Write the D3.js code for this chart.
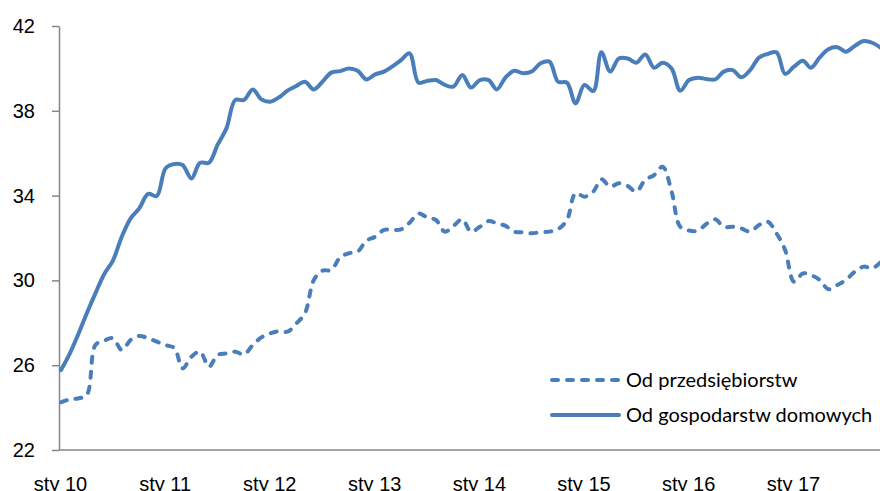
<!DOCTYPE html>
<head>
    <script src="https://d3js.org/d3.v7.js" charset="utf-8"></script>
    <style type="text/css">
        body {
            margin: 0;
            background-color: white;
        }

        svg {
            display: block;
            font-family: Lato, "Noto Sans", sans-serif;
        }

        .axis path,
        .axis line {
            stroke: #868686;
            stroke-width: 1.5px;
        }

        .axis text {
            fill: #000;
            font-size: 20px;
        }

        .series {
            fill: none;
            stroke: #4a7ebb;
            stroke-width: 4px;
            stroke-linecap: round;
            stroke-linejoin: round;
        }

        .dashed {
            stroke-dasharray: 6, 9;
        }

        .legend text {
            font-size: 20px;
            fill: #000;
        }
    </style>
</head>

<body>
    <svg id="main"></svg>
    <script>
        // monthly data, starting from january 2010
        const startMonth = "2010-01"

        const householdDeposits = [
            25.77, 26.56, 27.42, 28.45, 29.39, 30.30, 30.93, 32.06, 32.93, 33.40, 34.08, 33.98,
            35.29, 35.49, 35.44, 34.81, 35.55, 35.55, 36.39, 37.17, 38.51, 38.51, 39.01, 38.54,
            38.43, 38.64, 38.95, 39.17, 39.37, 39.01, 39.37, 39.80, 39.87, 40.00, 39.89, 39.48,
            39.72, 39.85, 40.08, 40.39, 40.71, 39.33, 39.41, 39.45, 39.22, 39.14, 39.69, 39.10,
            39.45, 39.45, 39.01, 39.58, 39.89, 39.77, 39.85, 40.24, 40.32, 39.37, 39.33, 38.35,
            39.22, 38.93, 40.76, 39.85, 40.47, 40.47, 40.27, 40.66, 40.03, 40.27, 40.00, 38.95,
            39.45, 39.56, 39.50, 39.48, 39.85, 39.92, 39.58, 39.92, 40.51, 40.68, 40.76, 39.74,
            40.08, 40.36, 40.03, 40.52, 40.90, 41.00, 40.79, 41.06, 41.29, 41.21, 40.95
        ]

        const enterpriseDeposits = [
            24.25, 24.39, 24.43, 24.60, 26.95, 27.16, 27.27, 26.72, 27.19, 27.38, 27.27, 27.11,
            26.95, 26.80, 25.85, 26.40, 26.64, 25.93, 26.48, 26.56, 26.64, 26.51, 26.95, 27.31,
            27.50, 27.61, 27.58, 27.97, 28.45, 30.02, 30.46, 30.49, 31.09, 31.28, 31.36, 31.87,
            32.06, 32.38, 32.38, 32.41, 32.72, 33.16, 32.97, 32.85, 32.30, 32.57, 32.88, 32.30,
            32.53, 32.80, 32.69, 32.57, 32.30, 32.27, 32.22, 32.27, 32.30, 32.42, 32.85, 34.11,
            33.95, 34.19, 34.77, 34.42, 34.58, 34.45, 34.19, 34.74, 34.97, 35.36, 34.19, 32.53,
            32.35, 32.35, 32.66, 32.88, 32.53, 32.53, 32.45, 32.30, 32.61, 32.77, 32.22, 31.43,
            29.94, 30.33, 30.25, 30.02, 29.58, 29.78, 30.02, 30.41, 30.65, 30.57, 30.88
        ]

        const yTicks = [22, 26, 30, 34, 38, 42]
        const xTickYears = [2010, 2011, 2012, 2013, 2014, 2015, 2016, 2017]
        const seriesNames = ["Od przedsiębiorstw", "Od gospodarstw domowych"]

        let width = 880,
            height = 491

        let svg1 = d3.select("#main")
            .attr("width", width)
            .attr("height", height)

        let parseMonth = d3.timeParse("%Y-%m")
        let firstDate = parseMonth(startMonth)
        let dates = householdDeposits.map((d, i) => d3.timeMonth.offset(firstDate, i))

        // jan 2010 sits on the axis, jan 2017 at ~794px
        let x = d3.scaleTime()
            .domain([new Date(2010, 0, 1), new Date(2017, 0, 1)])
            .range([61, 794])

        let y = d3.scaleLinear()
            .domain([22, 42])
            .range([450, 26])

        // y axis
        svg1.append("g")
            .attr("class", "axis")
            .attr("transform", "translate(59,0)")
            .call(d3.axisLeft(y).tickValues(yTicks).tickSize(7).tickPadding(17).tickSizeOuter(0))

        // x axis, no tick marks, labels under it
        let xAxis = svg1.append("g")
            .attr("class", "axis")
            .attr("transform", "translate(0,450)")
            .call(d3.axisBottom(x)
                .tickValues(xTickYears.map(yr => new Date(yr, 0, 1)))
                .tickFormat(d => "sty " + d3.timeFormat("%y")(d))
                .tickSize(0)
                .tickSizeOuter(0))
        xAxis.select(".domain").attr("d", "M59,0H" + width)
        xAxis.selectAll("text").attr("y", 41).attr("dy", 0).attr("x", -1)

        let line = d3.line()
            .x((d, i) => x(dates[i]))
            .y(d => y(d))
            .curve(d3.curveCatmullRom)

        svg1.append("path")
            .datum(enterpriseDeposits)
            .attr("class", "series dashed")
            .attr("d", line)

        svg1.append("path")
            .datum(householdDeposits)
            .attr("class", "series")
            .attr("d", line)

        // legend
        let legend = svg1.append("g").attr("class", "legend")
        let rows = legend.selectAll("g")
            .data(seriesNames)
            .enter()
            .append("g")
            .attr("transform", (d, i) => "translate(552," + (380 + i * 35) + ")")

        rows.append("line")
            .attr("class", (d, i) => i == 0 ? "series dashed" : "series")
            .attr("x1", 0)
            .attr("x2", 67)
            .attr("y1", 0)
            .attr("y2", 0)

        rows.append("text")
            .attr("x", 74)
            .attr("y", 7)
            .text(d => d)
    </script>
</body>
